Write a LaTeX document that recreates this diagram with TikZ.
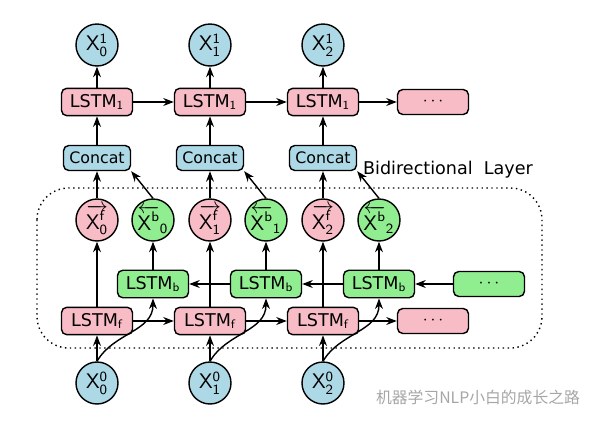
\documentclass[tikz,border=0pt]{standalone}
\usepackage{fontspec}
\setmainfont{DejaVu Sans}
\newfontfamily\cjk{Noto Sans CJK SC}
\usetikzlibrary{arrows.meta,positioning,calc}
\definecolor{pinknode}{HTML}{F7BCC6}
\definecolor{bluenode}{HTML}{ADD8E6}
\definecolor{greennode}{HTML}{90EE90}
\tikzset{
       arr/.style = {-{Stealth[length=6pt]}, thick},
      base/.style = {draw, thick, rounded corners=3pt, minimum height=0.5cm, font=\normalsize},
      fwd/.style = {base, fill=pinknode, minimum width=1.42cm},
      bwd/.style = {base, fill=greennode, minimum width=1.42cm},
   concat/.style = {base, fill=bluenode, minimum width=1.16cm, font=\small},
     word/.style = {circle, draw, thick, minimum size=0.84cm, inner sep=0pt, font=\large},
        }
\begin{document}
\begin{tikzpicture}[x=0.02cm, y=-0.02cm]
  \useasboundingbox (0,0) rectangle (600,423);

  % the bidirectional layer
  \draw[dotted, thick, rounded corners=18pt] (37,188) rectangle (542,348);
  \node[font=\normalsize] (title) at (448,170) {Bidirectional\ \ Layer};

  \foreach \i/\x in {0/97, 1/210, 2/323} {
    \pgfmathtruncatemacro{\b}{\x+56}
    \node[word, fill=bluenode] (in\i) at (\x,383) {$\mathsf{X^0_{\i}}$};
    \node[fwd] (f\i) at (\x,321) {LSTM$_\mathsf{f}$};
    \node[bwd] (b\i) at (\b,284) {LSTM$_\mathsf{b}$};
    \node[word, fill=pinknode] (xf\i) at (\x,220) {$\overrightarrow{\mathsf{X^f_{\i}}}$};
    \node[word, fill=greennode] (xb\i) at (\b,220) {$\overleftarrow{\mathsf{X^b}}_{\mathsf{\i}}$};
    \node[concat] (c\i) at (\x,158) {Concat};
    \node[fwd] (l\i) at (\x,102) {LSTM$_\mathsf{1}$};
    \node[word, fill=bluenode] (out\i) at (\x,45) {$\mathsf{X^1_{\i}}$};

    \draw[arr] (in\i) -- (f\i);
    \draw[arr] (in\i.north) to[out=60, in=-90] (b\i.south);
    \draw[arr] (f\i) -- (xf\i);
    \draw[arr] (b\i) -- (xb\i);
    \draw[arr] (xf\i) -- (c\i);
    \draw[arr] (xb\i.north) -- (c\i.south east);
    \draw[arr] (c\i) -- (l\i);
    \draw[arr] (l\i) -- (out\i);
  }
  \node[fwd] (ld) at (433,102) {$\cdots$};
  \node[bwd] (bd) at (489,284) {$\cdots$};
  \node[fwd] (fd) at (433,321) {$\cdots$};

  \draw[arr] (l0) -- (l1);
  \draw[arr] (l1) -- (l2);
  \draw[arr] (l2) -- (ld);
  \draw[arr] (f0) -- (f1);
  \draw[arr] (f1) -- (f2);
  \draw[arr] (f2) -- (fd);
  \draw[arr] (bd) -- (b2);
  \draw[arr] (b2) -- (b1);
  \draw[arr] (b1) -- (b0);

  \node[text=gray!70, font=\cjk\small] (mark) at (478,397) {机器学习NLP小白的成长之路};
\end{tikzpicture}
\end{document}
